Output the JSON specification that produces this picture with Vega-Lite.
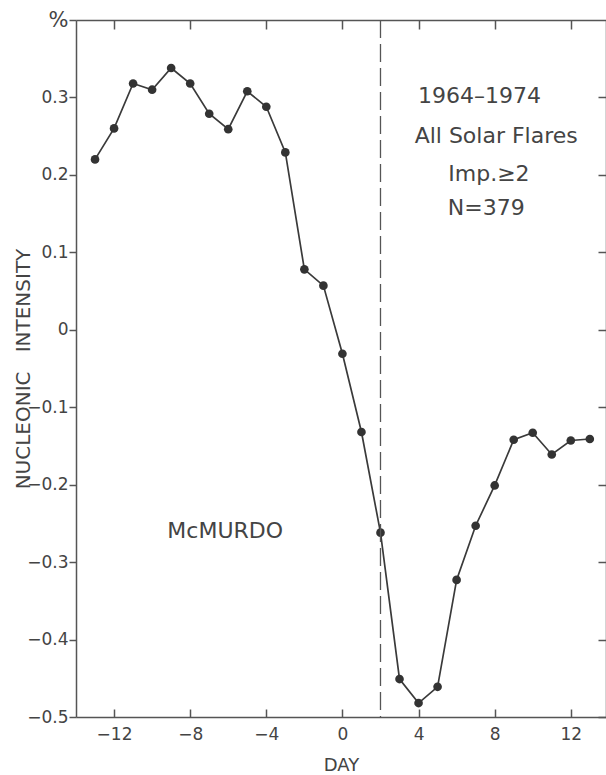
{
  "$schema": "https://vega.github.io/schema/vega-lite/v6.json",
  "width": 530,
  "height": 697,
  "autosize": "none",
  "padding": {"left": 76, "top": 20, "right": 0, "bottom": 58},
  "background": "white",
  "config": {
    "view": {"stroke": null},
    "font": "DejaVu Sans",
    "axis": {"domainColor": "#555", "tickColor": "#555", "labelColor": "#444", "titleColor": "#444", "grid": false, "domainWidth": 1.5, "tickWidth": 1.5, "labelFont": "DejaVu Sans", "titleFont": "DejaVu Sans"}
  },
  "datasets": {
    "flares": [
      {"day": -13, "value": 0.22}, {"day": -12, "value": 0.26}, {"day": -11, "value": 0.318},
      {"day": -10, "value": 0.31}, {"day": -9, "value": 0.338}, {"day": -8, "value": 0.318},
      {"day": -7, "value": 0.279}, {"day": -6, "value": 0.259}, {"day": -5, "value": 0.308},
      {"day": -4, "value": 0.288}, {"day": -3, "value": 0.229}, {"day": -2, "value": 0.078},
      {"day": -1, "value": 0.057}, {"day": 0, "value": -0.031}, {"day": 1, "value": -0.132},
      {"day": 2, "value": -0.262}, {"day": 3, "value": -0.451}, {"day": 4, "value": -0.482},
      {"day": 5, "value": -0.461}, {"day": 6, "value": -0.323}, {"day": 7, "value": -0.253},
      {"day": 8, "value": -0.201}, {"day": 9, "value": -0.142}, {"day": 10, "value": -0.133},
      {"day": 11, "value": -0.161}, {"day": 12, "value": -0.143}, {"day": 13, "value": -0.141}
    ],
    "notes": [
      {"day": 7.2, "value": 0.302, "label": "1964–1974"},
      {"day": 8.08, "value": 0.2505, "label": "All Solar Flares"},
      {"day": 7.7, "value": 0.201, "label": "Imp.≥2"},
      {"day": 7.56, "value": 0.157, "label": "N=379"},
      {"day": -6.16, "value": -0.26, "label": "McMURDO"}
    ],
    "marker": [{"day": 2}]
  },
  "resolve": {"axis": {"x": "independent", "y": "independent"}},
  "layer": [
    {
      "data": {"name": "flares"},
      "mark": {"type": "line", "color": "#3a3a3a", "strokeWidth": 1.7},
      "encoding": {
        "x": {
          "field": "day", "type": "quantitative",
          "scale": {"domain": [-14, 13.85], "nice": false, "zero": false},
          "axis": {"orient": "bottom", "values": [-12, -8, -4, 0, 4, 8, 12], "tickSize": -8, "labelPadding": 17, "labelFontSize": 17, "title": "DAY", "titleFontSize": 18, "titleFontWeight": "normal", "titlePadding": 14}
        },
        "y": {
          "field": "value", "type": "quantitative",
          "scale": {"domain": [-0.5, 0.4], "nice": false, "zero": false},
          "axis": {
            "orient": "left",
            "values": [-0.5, -0.4, -0.3, -0.2, -0.1, 0, 0.1, 0.2, 0.3, 0.4],
            "labelExpr": "datum.value > 0.35 ? '%' : (datum.value == 0 ? '0' : format(datum.value, '.1f'))",
            "tickSize": 7, "labelPadding": 1,
            "labelFontSize": {"condition": {"test": "datum.value > 0.35", "value": 21}, "value": 17},
            "title": "NUCLEONIC\u00a0\u00a0\u00a0INTENSITY\u00a0\u00a0\u00a0\u00a0\u00a0\u00a0", "titleFontSize": 20, "titleFontWeight": "normal", "titlePadding": -7
          }
        }
      }
    },
    {
      "data": {"name": "flares"},
      "mark": {"type": "point", "filled": true, "size": 75, "color": "#333", "opacity": 1},
      "encoding": {
        "x": {
          "field": "day", "type": "quantitative",
          "scale": {"domain": [-14, 13.85], "nice": false, "zero": false},
          "axis": {"orient": "top", "values": [-12, -8, -4, 0, 4, 8, 12], "tickSize": -9, "labels": false, "title": null}
        },
        "y": {
          "field": "value", "type": "quantitative",
          "scale": {"domain": [-0.5, 0.4], "nice": false, "zero": false},
          "axis": {"orient": "right", "values": [-0.5, -0.4, -0.3, -0.2, -0.1, 0, 0.1, 0.2, 0.3], "tickSize": -8, "labels": false, "title": null}
        }
      }
    },
    {
      "data": {"name": "marker"},
      "mark": {"type": "rule", "color": "#555", "strokeWidth": 1.3, "strokeDash": [18, 6]},
      "encoding": {
        "x": {"field": "day", "type": "quantitative", "axis": null}
      }
    },
    {
      "data": {"name": "notes"},
      "mark": {"type": "text", "font": "DejaVu Sans", "fontSize": 22, "color": "#444", "align": "center", "baseline": "middle"},
      "encoding": {
        "x": {"field": "day", "type": "quantitative", "axis": null},
        "y": {"field": "value", "type": "quantitative", "axis": null},
        "text": {"field": "label"}
      }
    }
  ]
}
